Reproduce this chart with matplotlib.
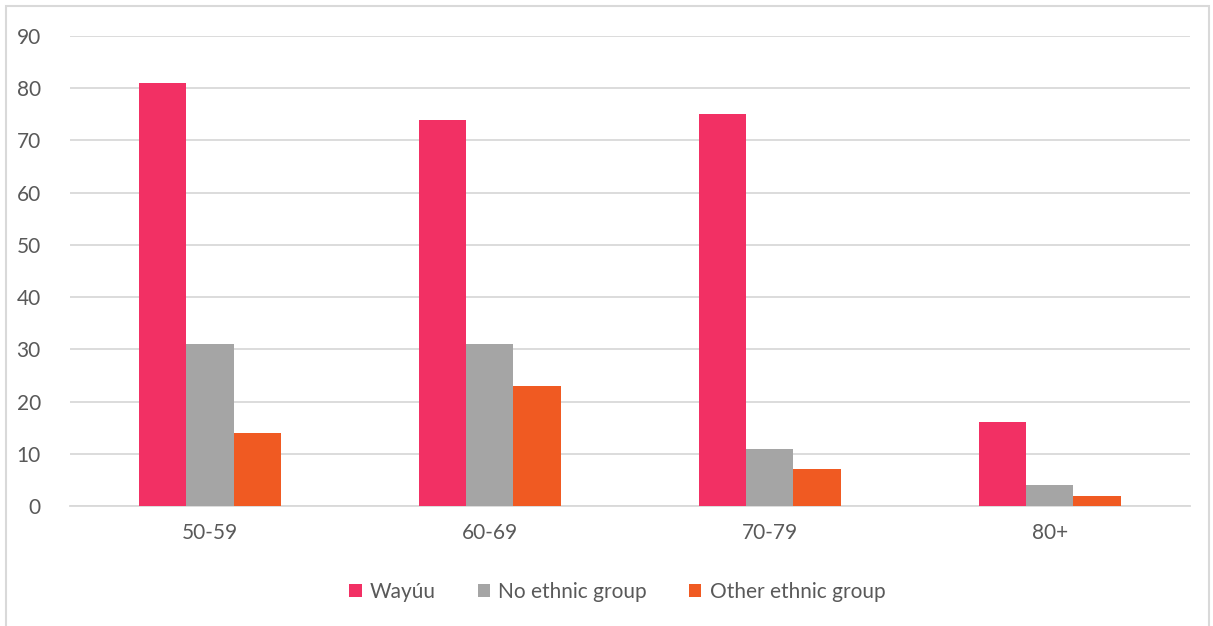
import matplotlib.pyplot as plt
import numpy as np

# data
groups = ["50-59", "60-69", "70-79", "80+"]
wayuu = [81, 74, 75, 16]
no_ethnic = [31, 31, 11, 4]
other_ethnic = [14, 23, 7, 2]

series = [
    ("Wayúu", wayuu, "#F23064"),
    ("No ethnic group", no_ethnic, "#A5A5A5"),
    ("Other ethnic group", other_ethnic, "#F05A22"),
]

plt.rcParams["font.family"] = ["Lato", "DejaVu Sans"]
txt = "#595959"
grid = "#D9D9D9"

fig = plt.figure(figsize=(12.13, 6.26), dpi=100)
ax = fig.add_axes([0.0577, 0.1917, 0.9233, 0.7508])

x = np.arange(len(groups))
w = 0.168
for i, (name, vals, col) in enumerate(series):
    ax.bar(x + (i - 1) * w, vals, width=w, color=col, label=name, zorder=3)

ax.set_xlim(-0.5, len(groups) - 0.5)
ax.set_ylim(0, 90)
ax.set_yticks(range(0, 91, 10))
ax.set_xticks(x)
ax.set_xticklabels(groups)
ax.yaxis.grid(True, color=grid, linewidth=1.3, zorder=0)
ax.tick_params(length=0, labelsize=15, colors=txt)
ax.tick_params(axis="y", pad=21)
ax.tick_params(axis="x", pad=12)
for s in ["top", "right", "left"]:
    ax.spines[s].set_visible(False)
ax.spines["bottom"].set_color(grid)
ax.spines["bottom"].set_linewidth(1.3)

leg = ax.legend(loc="center", bbox_to_anchor=(0.4885, -0.183), ncol=3, frameon=False,
                fontsize=15, handlelength=0.6, handleheight=0.6, columnspacing=2.0,
                handletextpad=0.4)
for t in leg.get_texts():
    t.set_color(txt)

# light chart-area frame like the spreadsheet export
fig.add_artist(plt.Rectangle((6 / 1213, -0.01), 1203 / 1213, 1 - 6 / 626 + 0.01,
                             transform=fig.transFigure, fill=False,
                             edgecolor=grid, linewidth=1.5))

fig.savefig("out.png", dpi=100)
